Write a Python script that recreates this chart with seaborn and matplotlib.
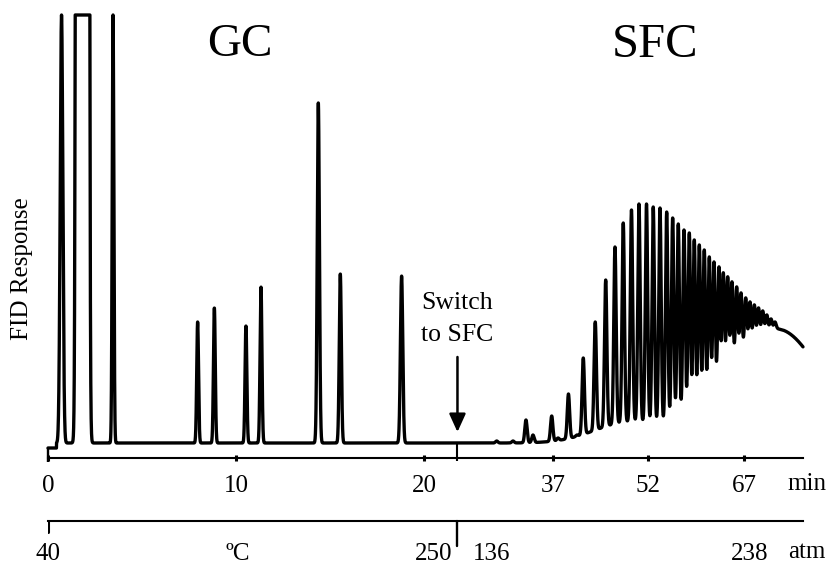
import numpy as np
import matplotlib
matplotlib.use("Agg")
import matplotlib.pyplot as plt
import seaborn as sns

# ---- GC part of the run (oven programme) ----
gc_times = [0.72, 1.835, 3.46, 7.96, 8.85, 10.53, 11.33, 14.38, 15.55, 18.81]   # min
gc_heights = [428, 1.0e6, 428, 121, 135, 117, 156, 340, 169, 167]                 # FID units
gc_widths = [0.07, 0.10, 0.043, 0.048, 0.048, 0.048, 0.05, 0.058, 0.055, 0.062]   # min (sigma)

# ---- SFC part of the run (pressure programme): retention times and apex heights ----
sfc_times = [28.16, 30.72, 32.76, 33.86, 36.80, 37.79, 39.43, 40.77, 41.76, 43.64,
             45.28, 46.74, 48.04, 49.33, 50.51, 51.69, 52.75, 53.81, 54.86, 55.80,
             56.68, 57.58, 58.41, 59.19, 59.98, 60.76, 61.55, 62.29, 63.07, 63.75,
             64.44, 65.11, 65.85, 66.53, 67.27, 67.94, 68.62, 69.28, 69.94, 70.58,
             71.24, 71.87]
sfc_apex = [2, 2, 23, 8, 27, 5, 49, 8, 85, 121,
            163, 196, 220, 233, 239, 239, 236, 235, 231, 225,
            219, 213, 210, 203, 198, 193, 186, 181, 176, 170,
            166, 161, 156, 150, 145, 141, 138, 135, 132, 128,
            124, 121]
SFC_WIDTH = 0.185  # min (sigma)

# unresolved envelope underneath the SFC oligomer series
hump_centres = [49.09, 60.09, 66.37, 73.44]
hump_heights = [21, 12, 28, 103]
hump_widths = [5.5, 3.93, 4.71, 6.28]

min_ticks = [0, 10, 20, 37, 52, 67]
programme_pos = [0, 10.1, 20.5, 27.3, 67.9]
programme_labels = ["40", "ºC", "250", "136", "238"]

SWITCH_TIME = 22.0
INJECTION_TIME = 0.45
PRE_INJECTION_LEVEL = -5
FULL_SCALE = 428
RUN_END = 76.27

# time axis is compressed after the GC -> SFC break
BREAK = 21.67
COMPRESS = 0.3387


def fwd(t):
    t = np.asarray(t, dtype=float)
    return np.where(t <= BREAK, t, BREAK + (t - BREAK) * COMPRESS)


def inv(u):
    u = np.asarray(u, dtype=float)
    return np.where(u <= BREAK, u, BREAK + (u - BREAK) / COMPRESS)


def gauss(t, c, h, s):
    return h * np.exp(-0.5 * ((t - c) / s) ** 2)


def hump(t):
    return sum(gauss(t, c, h, s) for c, h, s in zip(hump_centres, hump_heights, hump_widths))


t = np.arange(0, RUN_END, 0.004)
signal = np.zeros_like(t)
for c, h, s in zip(gc_times, gc_heights, gc_widths):
    signal += gauss(t, c, h, s)
signal += hump(t)
for c, a in zip(sfc_times, sfc_apex):
    signal += gauss(t, c, a - float(hump(c)), SFC_WIDTH)
signal[t < INJECTION_TIME] = PRE_INJECTION_LEVEL
signal = np.minimum(signal, FULL_SCALE)  # detector over-range

sns.set_theme(style="white")
plt.rcParams["font.family"] = ["Liberation Serif", "DejaVu Serif"]
plt.rcParams["text.color"] = "black"
plt.rcParams["axes.labelcolor"] = "black"
plt.rcParams["xtick.color"] = "black"

W, H = 831, 568
fig = plt.figure(figsize=(W / 100, H / 100), dpi=100)
ax = fig.add_axes([48 / W, 110 / H, 755 / W, 443 / H])
ax.set_xscale("function", functions=(fwd, inv))

sns.lineplot(x=t, y=signal, ax=ax, color="black", linewidth=2.4, estimator=None)
for ln in ax.lines:
    ln.set_clip_on(False)

ax.set_xlim(0, RUN_END)
ax.set_ylim(-15, FULL_SCALE)
for side in ["left", "right", "top"]:
    ax.spines[side].set_visible(False)
ax.spines["bottom"].set_linewidth(1.5)
ax.spines["bottom"].set_color("black")
ax.set_yticks([])
ax.set_xticks(min_ticks)
ax.set_xticklabels([str(v) for v in min_ticks])
ax.tick_params(axis="x", length=4, width=2.2, direction="inout", pad=10,
               labelsize=18, colors="black", bottom=True)

# start-of-run and GC/SFC switch marks on the time axis
ax.vlines([0], -19, PRE_INJECTION_LEVEL, color="black", lw=1.7, clip_on=False)
ax.vlines([SWITCH_TIME], -18, 0, color="black", lw=1.5, clip_on=False)

ax.text(10.2, 398, "GC", fontsize=34, ha="center", va="center")
ax.text(53.0, 398, "SFC", fontsize=35, ha="center", va="center")
ax.text(SWITCH_TIME, 140, "Switch", fontsize=18.5, ha="center", va="center")
ax.text(SWITCH_TIME, 108, "to SFC", fontsize=18.5, ha="center", va="center")
ax.annotate("", xy=(SWITCH_TIME, 11), xytext=(SWITCH_TIME, 86),
            arrowprops=dict(arrowstyle="-|>,head_length=0.55,head_width=0.25",
                            mutation_scale=20, lw=1.8, color="black",
                            shrinkA=0, shrinkB=0))

fig.text(22 / W, 1 - 269 / H, "FID Response", rotation=90, fontsize=18,
         ha="center", va="center")
fig.text(807 / W, 1 - 484 / H, "min", fontsize=18, ha="center", va="center")

# temperature / pressure programme axis
ax2 = fig.add_axes([48 / W, 28 / H, 755 / W, 19 / H])
ax2.set_xscale("function", functions=(fwd, inv))
ax2.set_xlim(0, RUN_END)
ax2.set_ylim(0, 1)
ax2.patch.set_visible(False)
for side in ["left", "right", "bottom"]:
    ax2.spines[side].set_visible(False)
ax2.spines["top"].set_linewidth(1.5)
ax2.spines["top"].set_color("black")
ax2.set_yticks([])
ax2.set_xticks(programme_pos)
ax2.set_xticklabels(programme_labels)
ax2.tick_params(axis="x", length=0, pad=2, labelsize=18, colors="black")
ax2.axvline(0, ymin=1 - 11 / 19, ymax=1, color="black", lw=2.2)
ax2.axvline(SWITCH_TIME, ymin=-6 / 19, ymax=1, color="black", lw=1.7, clip_on=False)
fig.text(807 / W, 1 - 552 / H, "atm", fontsize=18, ha="center", va="center")

fig.savefig("out.png", dpi=100, facecolor="white")
